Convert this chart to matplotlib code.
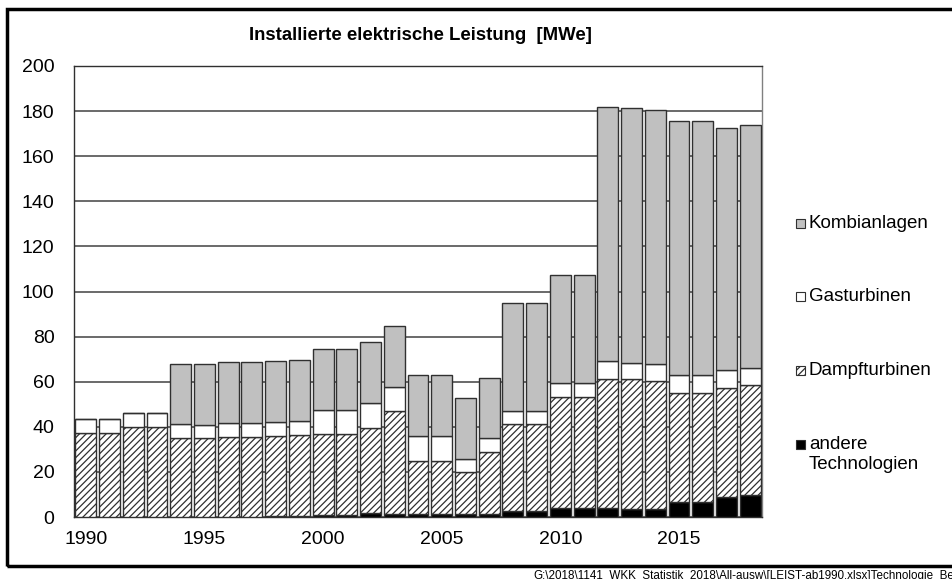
import numpy as np
import matplotlib
matplotlib.use('Agg')
import matplotlib.pyplot as plt
from matplotlib.patches import Rectangle

plt.rcParams['font.family'] = ['Liberation Sans', 'DejaVu Sans']
plt.rcParams['hatch.linewidth'] = 0.9

years = list(range(1990, 2019))
# MWe per technology
andere = [0, 0, 0, 0, 0, 0, 0, 0, 0.3, 0.5, 0.7, 0.7, 1.6, 1.5, 1.3, 1.3, 1.2, 1.3,
          2.8, 2.8, 3.9, 3.9, 3.8, 3.5, 3.5, 6.8, 6.8, 8.7, 9.6]
dampf = [37.4, 37.3, 39.9, 40.0, 35.0, 35.0, 35.6, 35.6, 35.6, 35.9, 36.0, 36.0, 38.0, 45.4,
         23.5, 23.5, 18.6, 27.5, 38.4, 38.4, 49.4, 49.4, 57.4, 57.5, 56.7, 48.3, 48.3, 48.5, 48.8]
gas = [5.9, 6.0, 6.1, 6.0, 6.1, 6.0, 6.1, 6.1, 6.1, 6.0, 10.7, 10.7, 11.0, 10.9,
       11.1, 11.1, 5.9, 6.1, 5.9, 5.9, 6.1, 6.1, 7.8, 7.5, 7.6, 7.7, 7.7, 7.8, 7.7]
kombi = [0, 0, 0, 0, 26.9, 26.9, 26.9, 26.9, 27.0, 27.1, 27.2, 27.2, 27.0, 26.8,
         26.9, 26.9, 27.1, 26.9, 47.8, 47.8, 47.7, 47.7, 112.8, 112.8, 112.8, 112.9, 112.9, 107.7, 107.7]
xlabels = ['1990', '1995', '2000', '2005', '2010', '2015']

fig = plt.figure(figsize=(9.53, 5.79), dpi=100)
ax = fig.add_axes([74/953, 62/579, (762-74)/953, (517-66)/579])

x = np.arange(len(years))
w = 0.88
edge = '#303030'
b1 = np.array(andere)
b2 = b1 + np.array(dampf)
b3 = b2 + np.array(gas)
ax.bar(x, andere, w, color='black', edgecolor=edge, linewidth=1, zorder=3)
ax.bar(x, dampf, w, bottom=b1, color='white', edgecolor=edge, hatch='/////', linewidth=1, zorder=3)
ax.bar(x, gas, w, bottom=b2, color='white', edgecolor=edge, linewidth=1, zorder=3)
ax.bar(x, kombi, w, bottom=b3, color='#c0c0c0', edgecolor=edge, linewidth=1, zorder=3)

ax.set_xlim(-0.5, len(years) - 0.5)
ax.set_ylim(0, 200)
ax.set_yticks(np.arange(0, 201, 20))
ax.set_xticks([years.index(int(s)) for s in xlabels])
ax.set_xticklabels(xlabels)
ax.tick_params(axis='both', length=0, labelsize=14)
ax.tick_params(axis='y', pad=14)
ax.tick_params(axis='x', pad=10)
ax.yaxis.grid(True, color='#505050', linewidth=1.2, zorder=0)
ax.set_axisbelow(True)
for s in ax.spines.values():
    s.set_color('#303030')
    s.set_linewidth(1)
ax.spines['right'].set_color('#808080')

fig.text(420/953, 1 - 36/579, 'Installierte elektrische Leistung  [MWe]',
         ha='center', va='center', fontsize=13.4, fontweight='bold')

# legend drawn by hand, like the excel one
leg = [('Kombianlagen', '#c0c0c0', None, 223),
       ('Gasturbinen', 'white', None, 296),
       ('Dampfturbinen', 'white', '/////', 370),
       ('andere\nTechnologien', 'black', None, 444)]
for lab, col, h, yy in leg:
    r = Rectangle((796/953, 1 - (yy + 5)/579), 9/953, 9/579, transform=fig.transFigure,
                  facecolor=col, edgecolor=edge, hatch=h, linewidth=0.8)
    fig.patches.append(r)
    fig.text(809/953, 1 - (yy - 8)/579, lab, ha='left', va='top', fontsize=13.5,
             linespacing=1.2)

# outer frame
fig.patches.append(Rectangle((7/953, 13/579), 960/953, 557/579, transform=fig.transFigure,
                             fill=False, edgecolor='black', linewidth=2.5))
fig.text(533/953, 1 - 570/579, r'G:\2018\1141_WKK_Statistik_2018\All-ausw\[LEIST-ab1990.xlsx]Technologie_Be',
         ha='left', va='top', fontsize=8.4)

fig.savefig('out.png', dpi=100)
